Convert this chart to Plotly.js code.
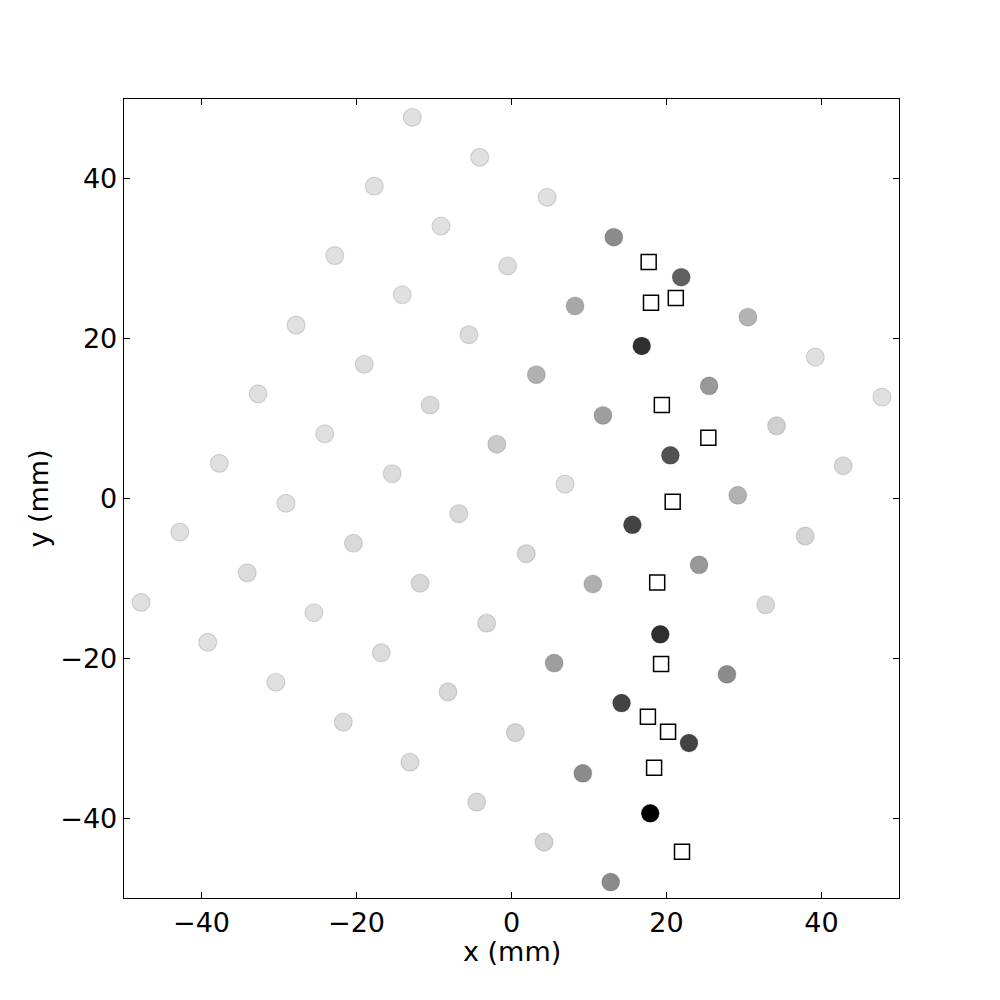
<!DOCTYPE html>
<html>
<head>
<meta charset="utf-8">
<script src="https://cdn.plot.ly/plotly-3.0.1.min.js"></script>
<style>html,body{margin:0;padding:0;background:#fff}#plot{width:1000px;height:1000px}</style>
</head>
<body>
<div id="plot"></div>
<script>
// circle positions (mm) and shade (0 = light grey, 1 = black)
const circX = [-12.8,-4.1,-17.7,4.6,-9.1,-22.8,-0.5,-14.1,-27.8,-5.5,-19.0,-32.7,-10.5,-24.1,-37.7,-1.9,-15.4,-29.1,-42.8,6.9,-6.8,-20.4,-34.1,-47.8,1.9,-11.8,-25.5,-39.2,-3.2,-16.8,-30.4,-8.2,-21.7,0.5,-13.1,-4.5,4.2,
  39.2,47.8,34.2,42.8,37.9,32.8,
  30.5,29.2,8.2,3.2,10.5,5.5,11.8,
  13.2,25.5,24.2,27.8,9.2,12.8,
  21.9,20.5,15.6,14.2,22.9,
  16.8,19.2,17.9];
const circY = [47.7,42.7,39.1,37.7,34.1,30.4,29.1,25.5,21.7,20.5,16.8,13.1,11.7,8.1,4.4,6.8,3.1,-0.6,-4.2,1.8,-1.9,-5.6,-9.3,-13.0,-6.9,-10.6,-14.3,-18.0,-15.6,-19.3,-23.0,-24.2,-28.0,-29.3,-33.0,-38.0,-43.0,
  17.7,12.7,9.1,4.1,-4.7,-13.3,
  22.7,0.4,24.1,15.5,-10.7,-20.6,10.4,
  32.7,14.1,-8.3,-22.0,-34.4,-48.0,
  27.7,5.4,-3.3,-25.6,-30.6,
  19.1,-17.0,-39.4];
const circShade = [0,0,0,0,0,0,0.02,0,0,0.02,0.02,0,0.03,0,0,0.1,0.02,0,0,0,0.03,0.03,0.02,0,0.04,0.04,0,0,0.03,0.02,0,0.04,0.02,0.05,0.02,0.03,0.05,
  0,0,0.07,0.03,0.05,0.03,
  0.2,0.21,0.25,0.21,0.22,0.29,0.29,
  0.38,0.32,0.32,0.38,0.38,0.38,
  0.57,0.64,0.7,0.7,0.7,
  0.79,0.79,1];

// square positions (mm)
const sqX = [17.7,18.0,21.2,19.4,25.4,20.8,18.8,19.3,17.6,20.2,18.4,22.0];
const sqY = [29.6,24.5,25.1,11.7,7.6,-0.4,-10.5,-20.7,-27.3,-29.2,-33.7,-44.2];

const fontFam = 'DejaVu Sans, sans-serif';

const traces = [
  {
    x: circX, y: circY, type: 'scatter', mode: 'markers',
    marker: {
      size: 18, color: circShade, cmin: 0, cmax: 1,
      colorscale: [[0,'#e0e0e0'],[1,'#000000']],
      line: {color: 'rgba(0,0,0,0.13)', width: 1.2}
    },
    hoverinfo: 'x+y'
  },
  {
    x: sqX, y: sqY, type: 'scatter', mode: 'markers',
    marker: {symbol: 'square', size: 15, color: '#ffffff', line: {color: '#000000', width: 1.5}},
    hoverinfo: 'x+y'
  }
];

const axisBase = {
  range: [-50, 50], tickvals: [-40,-20,0,20,40],
  ticks: 'inside', ticklen: 6, tickwidth: 1, tickcolor: '#000',
  showline: true, linecolor: '#000', linewidth: 1.3, mirror: 'ticks',
  showgrid: false, zeroline: false,
  tickfont: {family: fontFam, size: 27, color: '#000'}
};

const layout = {
  width: 1000, height: 1000,
  margin: {l: 124, r: 101, t: 99, b: 102},
  paper_bgcolor: '#fff', plot_bgcolor: '#fff',
  showlegend: false,
  font: {family: fontFam, color: '#000'},
  xaxis: axisBase,
  yaxis: Object.assign({}, axisBase, {
    title: {text: 'y (mm)', font: {family: fontFam, size: 27, color: '#000'}, standoff: 4}
  }),
  // x title as annotation so it sits tight under the tick labels
  annotations: [{
    text: 'x (mm)', xref: 'paper', yref: 'paper', x: 0.5, y: 0, yshift: -36,
    xanchor: 'center', yanchor: 'top', showarrow: false,
    font: {family: fontFam, size: 27, color: '#000'}
  }]
};

Plotly.newPlot('plot', traces, layout, {displayModeBar: false, staticPlot: true});
</script>
</body>
</html>
